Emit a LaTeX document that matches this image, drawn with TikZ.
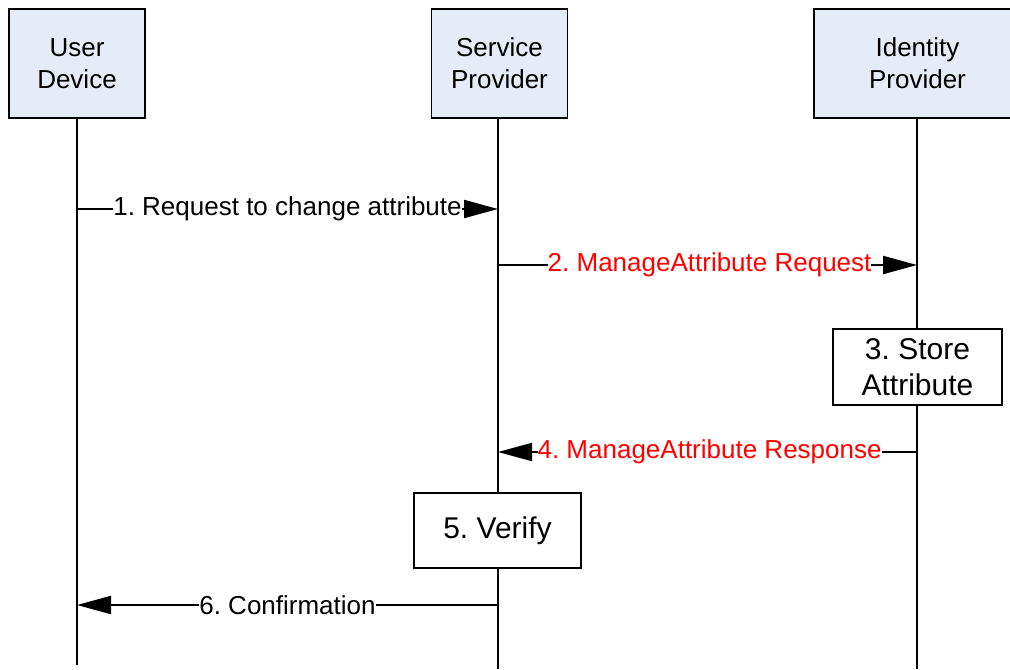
\documentclass[tikz,border=0pt]{standalone}
\usepackage{fontspec}
\setmainfont{Liberation Sans}
\usetikzlibrary{arrows.meta}
\definecolor{headblue}{HTML}{E6ECF7}
\frenchspacing
\begin{document}
\begin{tikzpicture}[x=0.75pt,y=-0.75pt,
  head/.style={draw=black, line width=1pt, fill=headblue, minimum height=81.75pt,
    align=center, inner sep=0pt, font=\fontsize{19.5}{24}\selectfont},
  act/.style={draw=black, line width=1.6pt, fill=white, align=center, inner sep=0pt,
    font=\fontsize{22.5}{27}\selectfont},
  life/.style={line width=1.6pt},
  msg/.style={line width=1.6pt, -{Triangle[length=25.5pt,width=13.5pt]}},
  lbl/.style={fill=white, inner sep=0pt, font=\fontsize{19.5}{23}\selectfont},
  redlbl/.style={lbl, text=red}
]
\useasboundingbox (0,0) rectangle (1010,669);
% headers
\node[head, minimum width=102pt] (ud) at (77,63.5) {User\\Device};
\node[head, minimum width=102pt] (sp) at (499.5,63.5) {Service\\Provider};
\node[head, minimum width=155.25pt] (idp) at (917.5,63.5) {Identity\\Provider};
% activity boxes
\node[act, minimum width=126.75pt, minimum height=57pt] (store) at (917.5,367) {3. Store\\Attribute};
\node[act, minimum width=125.25pt, minimum height=56.25pt] (verify) at (497.5,530.5) {5. Verify};
% lifeline ends
\coordinate (udend) at (77,665);
\coordinate (spend) at (498,669);
\coordinate (idpend) at (917,669);
% lifelines
\draw[life] (ud.south -| udend) -- (udend);
\draw[life] (sp.south -| spend) -- (spend |- verify.north);
\draw[life] (spend |- verify.south) -- (spend);
\draw[life] (idp.south -| idpend) -- (idpend |- store.north);
\draw[life] (idpend |- store.south) -- (idpend);
% message anchors
\coordinate (m1s) at (77,209);  \coordinate (m1e) at (498,209);
\coordinate (m2s) at (498,265); \coordinate (m2e) at (917,265);
\coordinate (m4s) at (917,452); \coordinate (m4e) at (498,452);
\coordinate (m6s) at (498,605); \coordinate (m6e) at (77,605);
% messages
\draw[msg] (m1s) -- node[lbl, pos=0.5] {1. Request to change attribute} (m1e);
\draw[msg] (m2s) -- node[redlbl, pos=0.505] {2. ManageAttribute Request} (m2e);
\draw[msg] (m4s) -- node[redlbl, pos=0.495] {4. ManageAttribute Response} (m4e);
\draw[msg] (m6s) -- node[lbl, pos=0.5] {6. Confirmation} (m6e);
\end{tikzpicture}
\end{document}
